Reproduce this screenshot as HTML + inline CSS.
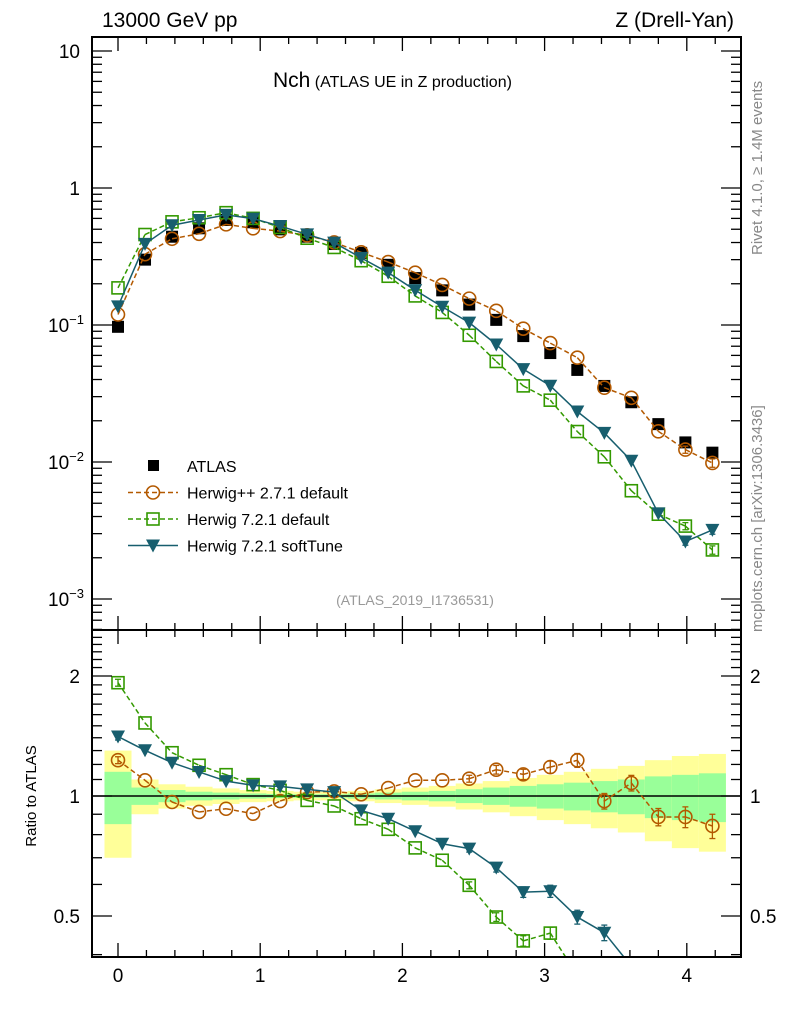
<!DOCTYPE html>
<html><head><meta charset="utf-8"><style>
html,body{margin:0;padding:0;background:#fff;overflow:hidden;width:786px;height:1024px;}
svg{display:block;font-family:"Liberation Sans",Arial,sans-serif;}
</style></head><body>
<svg id="chart" width="786" height="1024" viewBox="0 0 786 1024" xmlns="http://www.w3.org/2000/svg">
<text x="102" y="27" font-size="21">13000 GeV pp</text>
<text x="734" y="27" font-size="21" text-anchor="end">Z (Drell-Yan)</text>
<text x="273" y="87"><tspan font-size="21">Nch</tspan><tspan font-size="16"> (ATLAS UE in Z production)</tspan></text>
<text x="415" y="605" font-size="14" fill="#999" text-anchor="middle">(ATLAS_2019_I1736531)</text>
<text transform="translate(762,255) rotate(-90)" font-size="15" fill="#888">Rivet 4.1.0, ≥ 1.4M events</text>
<text transform="translate(762,632) rotate(-90)" font-size="15" fill="#888">mcplots.cern.ch [arXiv:1306.3436]</text>
<text transform="translate(36,796) rotate(-90)" font-size="15" text-anchor="middle">Ratio to ATLAS</text>
<g id="layer"></g>
</svg>
<script>
const xCenters = [0,0.19,0.38,0.57,0.76,0.95,1.14,1.33,1.52,1.71,1.9,2.09,2.28,2.47,2.66,2.85,3.04,3.23,3.42,3.61,3.8,3.99,4.18];
const atlasVals = [0.097,0.30,0.441,0.508,0.584,0.562,0.499,0.441,0.39,0.336,0.275,0.22,0.179,0.141,0.109,0.083,0.0624,0.047,0.0359,0.0273,0.0189,0.0139,0.0117];
const atlasTotErr = [0.30,0.10,0.07,0.055,0.045,0.035,0.03,0.025,0.025,0.03,0.04,0.05,0.06,0.075,0.09,0.11,0.13,0.15,0.17,0.19,0.23,0.26,0.275];
const atlasStatErr = [0.15,0.05,0.035,0.025,0.02,0.015,0.012,0.01,0.01,0.015,0.02,0.025,0.03,0.04,0.05,0.06,0.07,0.08,0.09,0.10,0.12,0.13,0.14];
const ratioHpp = [1.23,1.095,0.966,0.912,0.929,0.903,0.971,1.023,1.027,1.01,1.047,1.095,1.095,1.105,1.164,1.133,1.182,1.229,0.971,1.078,0.886,0.886,0.841];
const ratioH7 = [1.924,1.525,1.284,1.194,1.131,1.068,1.033,0.975,0.944,0.877,0.825,0.741,0.69,0.597,0.497,0.433,0.453,0.355,0.304,0.226,0.22,0.245,0.195];
const ratioSoft = [1.41,1.302,1.212,1.149,1.09,1.063,1.057,1.039,1.023,0.92,0.877,0.816,0.759,0.738,0.661,0.574,0.577,0.497,0.454,0.374,0.223,0.189,0.273];
const mcErr = [0.02,0.01,0.01,0.01,0.01,0.01,0.01,0.01,0.01,0.01,0.01,0.01,0.015,0.02,0.025,0.03,0.035,0.04,0.045,0.045,0.05,0.06,0.07];
const yTickLabelsMain = ["10","1","10","10","10"];
const yTickExp = ["","","−1","−2","−3"];
const yTickVals = [10,1,0.1,0.01,0.001];
const xTickVals = [0,1,2,3,4];
const ratioTickVals = [2,1,0.5];

const NS="http://www.w3.org/2000/svg";
const layer=document.getElementById('layer');
const L=92,R=741,T=37,B=630,RT=630,RB=957;
const sx=v=>118+v*142.2;
const sy=v=>188-Math.log10(v)*137;
const ry=v=>796-Math.log2(v)*120;
function mk(tag,attrs,parent){const e=document.createElementNS(NS,tag);for(const k in attrs)e.setAttribute(k,attrs[k]);(parent||layer).appendChild(e);return e;}

const gBand=mk('g',{});


xCenters.forEach((x,i)=>{
  const x0=Math.max(L,i==0?sx(-0.095):sx((x+xCenters[i-1])/2));
  const x1=Math.min(R,i==xCenters.length-1?sx(x+0.095):sx((x+xCenters[i+1])/2));
  const y=mk('rect',{x:x0,y:ry(1+atlasTotErr[i]),width:x1-x0,height:ry(1-atlasTotErr[i])-ry(1+atlasTotErr[i]),fill:'#ffff99'},gBand);
  
  
  const g=mk('rect',{x:x0,y:ry(1+atlasStatErr[i]),width:x1-x0,height:ry(1-atlasStatErr[i])-ry(1+atlasStatErr[i]),fill:'#99ff99'},gBand);
  
  
});
mk('line',{x1:L,x2:R,y1:ry(1),y2:ry(1),stroke:'#000','stroke-width':1.5});

function marker(parent,type,cx,cy,col){
  let e;
  if(type==='sq')e=mk('rect',{x:cx-6,y:cy-6,width:12,height:12,fill:'#000'},parent);
  else if(type==='circ')e=mk('circle',{cx:cx,cy:cy,r:6.5,fill:'none',stroke:col,'stroke-width':1.6},parent);
  else if(type==='osq')e=mk('rect',{x:cx-6,y:cy-6,width:12,height:12,fill:'none',stroke:col,'stroke-width':1.6},parent);
  else e=mk('path',{d:`M${cx-7},${cy-6}L${cx+7},${cy-6}L${cx},${cy+7}Z`,fill:col},parent);
  return e;
}
const series=[
  {name:'herwigpp-2-7-1',r:ratioHpp,col:'#b35900',type:'circ',dash:'5,3'},
  {name:'herwig-7-2-1-default',r:ratioH7,col:'#339900',type:'osq',dash:'5,3'},
  {name:'herwig-7-2-1-softtune',r:ratioSoft,col:'#175e6e',type:'tri',dash:null}
];
function clipSeg(p,q,y0,y1){
  let [ax,ay]=p,[bx,by]=q;
  if((ay>y1&&by>y1)||(ay<y0&&by<y0))return null;
  const lerp=(yy)=>ax+(bx-ax)*(yy-ay)/(by-ay);
  if(ay>y1){ax=lerp(y1);ay=y1;} else if(ay<y0){ax=lerp(y0);ay=y0;}
  // recompute with updated a for b
  const ax2=ax,ay2=ay;
  const lerp2=(yy)=>ax2+(bx-ax2)*(yy-ay2)/(by-ay2);
  if(by>y1){bx=lerp2(y1);by=y1;} else if(by<y0){bx=lerp2(y0);by=y0;}
  return [[ax,ay],[bx,by]];
}
function drawSeries(s,yf,valf,suffix,y0,y1){
  const g=mk('g',{});
  
  
  const pts=xCenters.map((x,i)=>[sx(x),yf(valf(i))]);
  let d='';
  for(let i=0;i<pts.length-1;i++){const c=clipSeg(pts[i],pts[i+1],y0,y1);if(c)d+=`M${c[0][0]},${c[0][1]}L${c[1][0]},${c[1][1]}`;}
  const pl=mk('path',{d:d,fill:'none',stroke:s.col,'stroke-width':1.5},g);
  if(s.dash)pl.setAttribute('stroke-dasharray',s.dash);
  xCenters.forEach((x,i)=>{
    const v=valf(i),e=mcErr[i],cy=yf(v);
    if(cy<y0||cy>y1)return;
    const ya=Math.max(y0,yf(v*(1+e))),yb=Math.min(y1,yf(v*(1-e)));
    if(yb-ya>6){mk('line',{x1:sx(x),x2:sx(x),y1:ya,y2:yb,stroke:s.col,'stroke-width':1.3},g);
      mk('line',{x1:sx(x)-3,x2:sx(x)+3,y1:ya,y2:ya,stroke:s.col,'stroke-width':1.3},g);
      mk('line',{x1:sx(x)-3,x2:sx(x)+3,y1:yb,y2:yb,stroke:s.col,'stroke-width':1.3},g);}
    const m=marker(g,s.type,sx(x),cy,s.col);
    
    
  });
}
const ga=mk('g',{});


xCenters.forEach((x,i)=>{const m=marker(ga,'sq',sx(x),sy(atlasVals[i]),'#000');
  
  });
series.forEach(s=>drawSeries(s,sy,i=>atlasVals[i]*s.r[i],'main',T,B));
series.forEach(s=>drawSeries(s,ry,i=>s.r[i],'ratio',RT,RB));

const f1=mk('rect',{x:L,y:T,width:R-L,height:B-T,fill:'none',stroke:'#000','stroke-width':2});


const f2=mk('rect',{x:L,y:RT,width:R-L,height:RB-RT,fill:'none',stroke:'#000','stroke-width':2});


for(let k=-1;k<=22;k++){const v=k*0.2; if(sx(v)<=L||sx(v)>=R)continue;
  const major=k%5===0, len=major?14:7, X=sx(v);
  [[T,1],[B,-1],[RT,1],[RB,-1]].forEach(([y,d])=>mk('line',{x1:X,x2:X,y1:y,y2:y+d*len,stroke:'#000','stroke-width':1.3}));}
xTickVals.forEach(v=>{const t=mk('text',{x:sx(v),y:982,'font-size':19,'text-anchor':'middle'});t.textContent=v;
  
  });
for(let d=-4;d<=1;d++){for(let m=1;m<=9;m++){const v=m*Math.pow(10,d),Y=sy(v);if(Y<T||Y>B)continue;
  const len=m===1?20:10;
  mk('line',{x1:L,x2:L+len,y1:Y,y2:Y,stroke:'#000','stroke-width':1.3});
  mk('line',{x1:R,x2:R-len,y1:Y,y2:Y,stroke:'#000','stroke-width':1.3});}}
yTickVals.forEach((v,i)=>{const t=mk('text',{x:yTickExp[i]?64:80,y:sy(v)+7,'font-size':19,'text-anchor':'end'});
  t.textContent=yTickLabelsMain[i];
  if(yTickExp[i]){const s=mk('tspan',{dy:-8,'font-size':13},t);s.textContent=yTickExp[i];t.setAttribute('x',84);}
  
  });
for(let k=4;k<=25;k++){const v=k/10,Y=ry(v);if(Y<RT||Y>RB)continue;
  const major=(k===5||k===10||k===20),len=major?20:10;
  mk('line',{x1:L,x2:L+len,y1:Y,y2:Y,stroke:'#000','stroke-width':1.3});
  mk('line',{x1:R,x2:R-len,y1:Y,y2:Y,stroke:'#000','stroke-width':1.3});}
ratioTickVals.forEach(v=>{
  const t=mk('text',{x:80,y:ry(v)+7,'font-size':19,'text-anchor':'end'});t.textContent=v;
  
  
  const t2=mk('text',{x:750,y:ry(v)+7,'font-size':19});t2.textContent=v;
  
  });
const lg=mk('g',{});


const legendNames=['ATLAS','Herwig++ 2.7.1 default','Herwig 7.2.1 default','Herwig 7.2.1 softTune'];
legendNames.forEach((n,i)=>{
  const y=466+i*26.5;
  const e=mk('g',{},lg);
  
  
  if(i===0){mk('rect',{x:148,y:y-6,width:11,height:11,fill:'#000'},e);}
  else{const s=series[i-1];const l=mk('line',{x1:128,x2:178,y1:y,y2:y,stroke:s.col,'stroke-width':1.5},e);
    if(s.dash)l.setAttribute('stroke-dasharray',s.dash);marker(e,s.type,153,y,s.col);}
  const t=mk('text',{x:187,y:y+6,'font-size':16},e);t.textContent=n;
});
</script>
</body></html>
